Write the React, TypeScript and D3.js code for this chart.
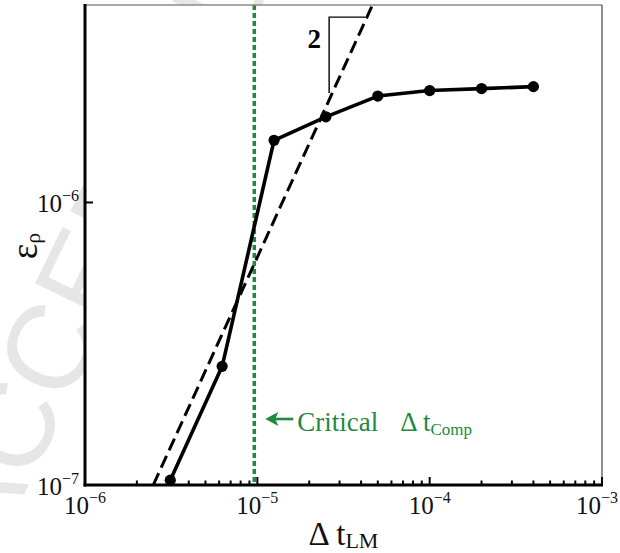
import React from 'react';
import * as d3 from 'd3';

// Error in rho versus the LM time step, log-log
const dtLM = [3.125e-6, 6.25e-6, 1.25e-5, 2.5e-5, 5e-5, 1e-4, 2e-4, 4e-4];
const epsRho = [1.04e-7, 2.63e-7, 1.66e-6, 2.01e-6, 2.38e-6, 2.49e-6, 2.53e-6, 2.57e-6];

// Reference slope line and its slope triangle
const refDt = [2.49e-6, 4.61e-5];
const refEps = [1.0e-7, 4.93e-6];
const slopeTriDt = [2.61e-5, 2.61e-5, 4.22e-5];
const slopeTriEps = [2.44e-6, 4.53e-6, 4.53e-6];
const slopeLabel = '2';

// Critical compressible time step
const criticalDt = 9.6e-6;

const xTickValues = [1e-6, 1e-5, 1e-4, 1e-3];
const xTickExps = ['−6', '−5', '−4', '−3'];
const yTickValues = [1e-7, 1e-6];
const yTickExps = ['−7', '−6'];

const W = 620;
const H = 553;
const L = 85, R = 602, T = 5, B = 485;
const FONT = '"Liberation Serif", "Times New Roman", serif';
const GREEN = '#1f8a3d';

export default function App() {
  const x = d3.scaleLog().domain([1e-6, 1e-3]).range([L, R]);
  const y = d3.scaleLog().domain([1e-7, 5e-6]).range([B, T]);

  const pts = dtLM.map((d, i) => [x(d), y(epsRho[i])] as [number, number]);
  const line = d3.line<[number, number]>();
  const mainPath = line(pts) || '';
  const refPath = line(refDt.map((d, i) => [x(d), y(refEps[i])] as [number, number])) || '';
  const triPath = line(slopeTriDt.map((d, i) => [x(d), y(slopeTriEps[i])] as [number, number])) || '';

  const minorX = x.ticks().filter((v) => !xTickValues.some((m) => Math.abs(m - v) / m < 1e-6));

  const xc = x(criticalDt);
  const arrowY = 419;
  // keep tick labels inside the drawing area
  const labelHalf = 22;
  const tickLabelX = (v: number) => Math.min(x(v), W - labelHalf - 1);

  return (
    <svg width={W} height={H} style={{ position: 'absolute', left: 0, top: 0, background: '#fff' }}
      fontFamily={FONT}>
      <defs>
        <clipPath id="plotClip">
          <rect x={L} y={T} width={R - L} height={B - T} />
        </clipPath>
      </defs>
      {/* watermark */}
      <text x={0} y={0} transform="translate(-6,556) rotate(-64)" fontFamily='"Liberation Sans", Arial, sans-serif'
        fontSize={120} fill="#e6e6e6">ACCEPTED</text>
      <rect x={L} y={T} width={R - L} height={B - T} fill="#fff" />

      {/* critical time step */}
      <line x1={xc} x2={xc} y1={T} y2={B} stroke={GREEN} strokeWidth={3.5} strokeDasharray="5,3" />

      <g clipPath="url(#plotClip)">
        <path d={refPath} fill="none" stroke="#000" strokeWidth={3} strokeDasharray="13,6" />
        <path d={triPath} fill="none" stroke="#000" strokeWidth={1.4} />
        <path d={mainPath} fill="none" stroke="#000" strokeWidth={3.6} strokeLinejoin="round" />
        {pts.map((p, i) => (
          <circle key={i} cx={p[0]} cy={p[1]} r={5.6} fill="#000" />
        ))}
      </g>

      <text x={x(slopeTriDt[0]) - 15} y={y(slopeTriEps[1]) + 31} textAnchor="middle" fontSize={27}
        fontWeight="bold" fill="#000">{slopeLabel}</text>

      {/* annotation */}
      <line x1={xc + 20} x2={xc + 39} y1={arrowY} y2={arrowY} stroke={GREEN} strokeWidth={2.6} />
      <polygon points={`${xc + 11},${arrowY} ${xc + 24},${arrowY - 7} ${xc + 21},${arrowY} ${xc + 24},${arrowY + 7}`} fill={GREEN} />
      <text x={xc + 43} y={arrowY + 12} fontSize={27} fill={GREEN}>
        Critical
        <tspan x={xc + 146}>Δ t</tspan>
        <tspan fontSize={17} dy={4}>Comp</tspan>
      </text>

      {/* frame */}
      <line x1={L} x2={R} y1={T} y2={T} stroke="#8a8a8a" strokeWidth={1.5} />
      <line x1={R} x2={R} y1={T} y2={B} stroke="#555" strokeWidth={1.3} />

      {/* x ticks */}
      {minorX.map((v, i) => (
        <line key={'mx' + i} x1={x(v)} x2={x(v)} y1={B} y2={B - 4.5} stroke="#000" strokeWidth={2} />
      ))}
      {xTickValues.map((v, i) => (
        <g key={'x' + i}>
          <line x1={x(v)} x2={x(v)} y1={B} y2={B - 8} stroke="#000" strokeWidth={2} />
          <text x={tickLabelX(v)} y={B + 29} textAnchor="middle" fontSize={25} fill="#111">
            10<tspan fontSize={16} dy={-11}>{xTickExps[i]}</tspan>
          </text>
        </g>
      ))}

      {/* y ticks */}
      {yTickValues.map((v, i) => (
        <g key={'y' + i}>
          <line x1={L} x2={L + 8} y1={y(v)} y2={y(v)} stroke="#000" strokeWidth={2} />
          <text x={L - 6} y={y(v) + 10} textAnchor="end" fontSize={25} fill="#111">
            10<tspan fontSize={16} dy={-11}>{yTickExps[i]}</tspan>
          </text>
        </g>
      ))}

      {/* axes */}
      <line x1={L} x2={L} y1={T - 1} y2={B + 1.5} stroke="#000" strokeWidth={3} />
      <line x1={L - 1.5} x2={R + 1} y1={B} y2={B} stroke="#000" strokeWidth={2.8} />

      {/* axis titles */}
      <text x={(L + R) / 2} y={545} textAnchor="middle" fontSize={33} fill="#111">
        Δ t<tspan fontSize={22} dy={3}>LM</tspan>
      </text>
      <text transform={`translate(37,246) rotate(-90)`} textAnchor="middle" fontSize={37} fill="#111">
        ε<tspan fontSize={22} dy={3}>ρ</tspan>
      </text>
    </svg>
  );
}
